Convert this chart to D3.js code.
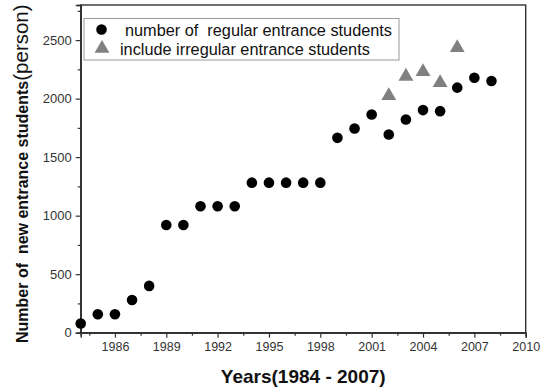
<!DOCTYPE html>
<html>
<head>
<meta charset="utf-8">
<script src="https://cdn.jsdelivr.net/npm/d3@7"></script>
<style>
  body { margin: 0; background: #fff; }
  svg { display: block; font-family: "Liberation Sans", Arial, sans-serif; }
  text { white-space: pre; }
</style>
</head>
<body>
<svg id="chart" width="548" height="392"></svg>
<script>
// regular entrance students, one per year
const years = [1984, 1985, 1986, 1987, 1988, 1989, 1990, 1991, 1992, 1993, 1994, 1995, 1996,
  1997, 1998, 1999, 2000, 2001, 2002, 2003, 2004, 2005, 2006, 2007, 2008];
const regular = [78, 158, 158, 280, 400, 920, 920, 1080, 1080, 1080, 1282, 1282, 1282,
  1282, 1282, 1665, 1745, 1865, 1693, 1822, 1902, 1893, 2094, 2178, 2150];

// including irregular entrance students
const irrYears = [2002, 2003, 2004, 2005, 2006];
const irregular = [2025, 2190, 2230, 2135, 2435];

const xMajor = [1986, 1989, 1992, 1995, 1998, 2001, 2004, 2007, 2010];
const xMinor = [1984.5, 1987.5, 1990.5, 1993.5, 1996.5, 1999.5, 2002.5, 2005.5, 2008.5];
const yMajor = [0, 500, 1000, 1500, 2000, 2500];
const yMinor = [250, 750, 1250, 1750, 2250, 2750];

const legendLabels = ["number of  regular entrance students", "include irregular entrance students"];

const W = 548, H = 392;
const margin = { top: 5, right: 22.3, bottom: 59.3, left: 80.7 };
const svg = d3.select("#chart");

const x = d3.scaleLinear().domain([1984, 2010]).range([margin.left, W - margin.right]);
const y = d3.scaleLinear().domain([0, 2800]).range([H - margin.bottom, margin.top]);

const axisColor = "#333";
const labelColor = "#333";

//Frame
svg.append("rect")
  .attr("x", margin.left).attr("y", margin.top)
  .attr("width", W - margin.left - margin.right)
  .attr("height", H - margin.top - margin.bottom)
  .attr("fill", "none").attr("stroke", axisColor).attr("stroke-width", 1.4);

//Axes (ticks point outward like Origin defaults)
const gx = svg.append("g").attr("transform", `translate(0,${y(0)})`)
  .call(d3.axisBottom(x).tickValues(xMajor).tickFormat(d3.format("d")).tickSize(5).tickPadding(4));
svg.append("g").attr("transform", `translate(0,${y(0)})`)
  .call(d3.axisBottom(x).tickValues(xMinor).tickFormat("").tickSize(3));

const gy = svg.append("g").attr("transform", `translate(${x(1984)},0)`)
  .call(d3.axisLeft(y).tickValues(yMajor).tickFormat(d3.format("d")).tickSize(5).tickPadding(4));
svg.append("g").attr("transform", `translate(${x(1984)},0)`)
  .call(d3.axisLeft(y).tickValues(yMinor).tickFormat("").tickSize(3));

svg.selectAll(".domain").attr("stroke", axisColor).attr("stroke-width", 1.4);
svg.selectAll(".tick line").attr("stroke", axisColor).attr("stroke-width", 1.2);
gx.selectAll("text").attr("font-size", 12.5).attr("fill", labelColor).attr("font-family", null);
gy.selectAll("text").attr("font-size", 13).attr("fill", labelColor).attr("font-family", null);

//Axis titles
svg.append("text")
  .attr("x", (x.range()[0] + x.range()[1]) / 2)
  .attr("y", 383)
  .attr("text-anchor", "middle")
  .attr("font-size", 19).attr("font-weight", "bold").attr("fill", "#111")
  .text("Years(1984 - 2007)");

const yTitle = svg.append("text")
  .attr("transform", "translate(28,343) rotate(-90)")
  .attr("fill", "#111");
yTitle.append("tspan").attr("font-size", 16).attr("font-weight", "bold")
  .text("Number of  new entrance students");
yTitle.append("tspan").attr("font-size", 20.5)
  .text("(person)");

//Data points
svg.append("g").selectAll("circle")
  .data(years.map((d, i) => [d, regular[i]]))
  .join("circle")
  .attr("cx", d => x(d[0])).attr("cy", d => y(d[1]))
  .attr("r", 5.3).attr("fill", "#000");

const tri = d3.symbol().type(d3.symbolTriangle).size(95);
svg.append("g").selectAll("path")
  .data(irrYears.map((d, i) => [d, irregular[i]]))
  .join("path")
  .attr("d", tri)
  .attr("transform", d => `translate(${x(d[0])},${y(d[1])})`)
  .attr("fill", "#808080");

//Legend
const lg = svg.append("g");
lg.append("rect")
  .attr("x", 84).attr("y", 18.5).attr("width", 315).attr("height", 41.5)
  .attr("fill", "#fff").attr("stroke", "#999").attr("stroke-width", 1);
lg.append("circle").attr("cx", 101.5).attr("cy", 29.5).attr("r", 5.3).attr("fill", "#000");
lg.append("path").attr("d", tri).attr("transform", "translate(102,48.5)").attr("fill", "#808080");
lg.append("text").attr("x", 125).attr("y", 35.5).attr("font-size", 16.3).attr("fill", "#111")
  .text(legendLabels[0]);
lg.append("text").attr("x", 120).attr("y", 54.5).attr("font-size", 16.3).attr("fill", "#111")
  .text(legendLabels[1]);
</script>
</body>
</html>
